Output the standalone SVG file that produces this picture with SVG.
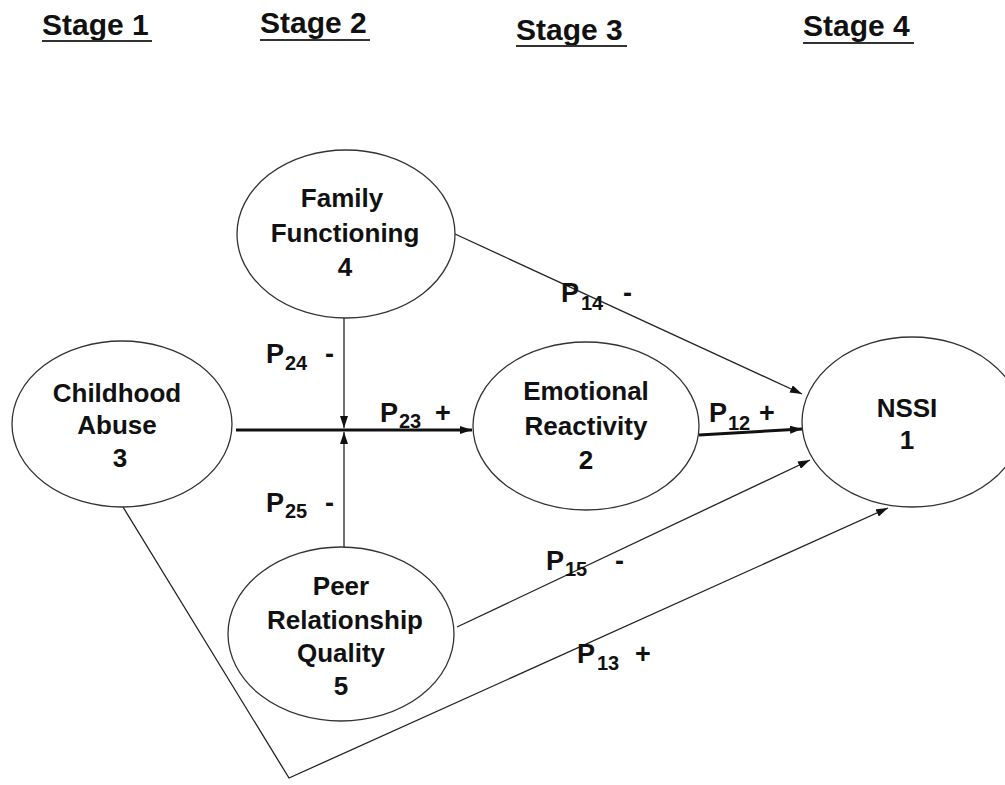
<svg xmlns="http://www.w3.org/2000/svg" width="1005" height="785" viewBox="0 0 1005 785">
<style>
text{font-family:"Liberation Sans",Arial,sans-serif;font-weight:bold;fill:#111;}
.stage{font-size:30px;}
.node{font-size:26px;text-anchor:middle;}
.p{font-size:27px;}
.sub{font-size:20px;}
.ell{fill:#fff;stroke:#333;stroke-width:1.3;}
.thin{stroke:#222;stroke-width:1.3;fill:none;}
.thick{stroke:#111;stroke-width:3;fill:none;}
.ul{stroke:#333;stroke-width:2;}
</style>
<defs>
<marker id="ah" viewBox="0 0 12 8" refX="12" refY="4" markerWidth="12" markerHeight="8" markerUnits="userSpaceOnUse" orient="auto">
<path d="M0,0 L12,4 L0,8 z" fill="#111"/>
</marker>
</defs>
<rect width="1005" height="785" fill="#fff"/>
<g id="stages">
<text class="stage" x="42" y="35">Stage 1</text>
<line class="ul" x1="42" y1="41" x2="152" y2="41"/>
<text class="stage" x="260" y="33">Stage 2</text>
<line class="ul" x1="260" y1="40" x2="370" y2="40"/>
<text class="stage" x="516" y="40">Stage 3</text>
<line class="ul" x1="516" y1="46" x2="627" y2="46"/>
<text class="stage" x="803" y="36">Stage 4</text>
<line class="ul" x1="803" y1="43" x2="914" y2="43"/>
</g>
<g id="connectors">
<line class="thick" x1="236" y1="430" x2="472" y2="430" marker-end="url(#ah)"/>
<line class="thin" x1="344" y1="318" x2="344" y2="428" marker-end="url(#ah)"/>
<line class="thin" x1="344" y1="547" x2="344" y2="432" marker-end="url(#ah)"/>
<line class="thin" x1="455" y1="234" x2="802" y2="394" marker-end="url(#ah)"/>
<line class="thick" x1="699" y1="435" x2="802" y2="429" marker-end="url(#ah)"/>
<line class="thin" x1="457" y1="627" x2="810" y2="460" marker-end="url(#ah)"/>
<polyline class="thin" points="123,507 289,778 888,508" marker-end="url(#ah)"/>
</g>
<g id="node-childhood">
<ellipse class="ell" cx="122" cy="424" rx="110" ry="83"/>
<text class="node" x="117" y="402">Childhood</text>
<text class="node" x="117" y="434">Abuse</text>
<text class="node" x="120" y="467">3</text>
</g>
<g id="node-family">
<ellipse class="ell" cx="346" cy="234" rx="109" ry="84"/>
<text class="node" x="342" y="207">Family</text>
<text class="node" x="345" y="242">Functioning</text>
<text class="node" x="345" y="276">4</text>
</g>
<g id="node-emotional">
<ellipse class="ell" cx="586" cy="426" rx="113" ry="84"/>
<text class="node" x="586" y="400">Emotional</text>
<text class="node" x="586" y="435">Reactivity</text>
<text class="node" x="586" y="469">2</text>
</g>
<g id="node-nssi">
<ellipse class="ell" cx="912" cy="422" rx="110" ry="85"/>
<text class="node" x="907" y="417">NSSI</text>
<text class="node" x="907" y="449">1</text>
</g>
<g id="node-peer">
<ellipse class="ell" cx="341" cy="634" rx="113" ry="87"/>
<text class="node" x="341" y="595">Peer</text>
<text class="node" x="345" y="629">Relationship</text>
<text class="node" x="341" y="662">Quality</text>
<text class="node" x="341" y="695">5</text>
</g>
<g id="labels">
<text class="p" x="266" y="363">P</text><text class="sub" x="285" y="370">24</text><text class="p" x="325" y="363">-</text>
<text class="p" x="380" y="422">P</text><text class="sub" x="399" y="428">23</text><text class="p" x="435" y="422">+</text>
<text class="p" x="561" y="302">P</text><text class="sub" x="581" y="310">14</text><text class="p" x="623" y="302">-</text>
<text class="p" x="709" y="422">P</text><text class="sub" x="728" y="430">12</text><text class="p" x="759" y="422">+</text>
<text class="p" x="266" y="512">P</text><text class="sub" x="285" y="518">25</text><text class="p" x="325" y="512">-</text>
<text class="p" x="546" y="570">P</text><text class="sub" x="565" y="576">15</text><text class="p" x="615" y="570">-</text>
<text class="p" x="577" y="663">P</text><text class="sub" x="597" y="670">13</text><text class="p" x="635" y="663">+</text>
</g>
</svg>
